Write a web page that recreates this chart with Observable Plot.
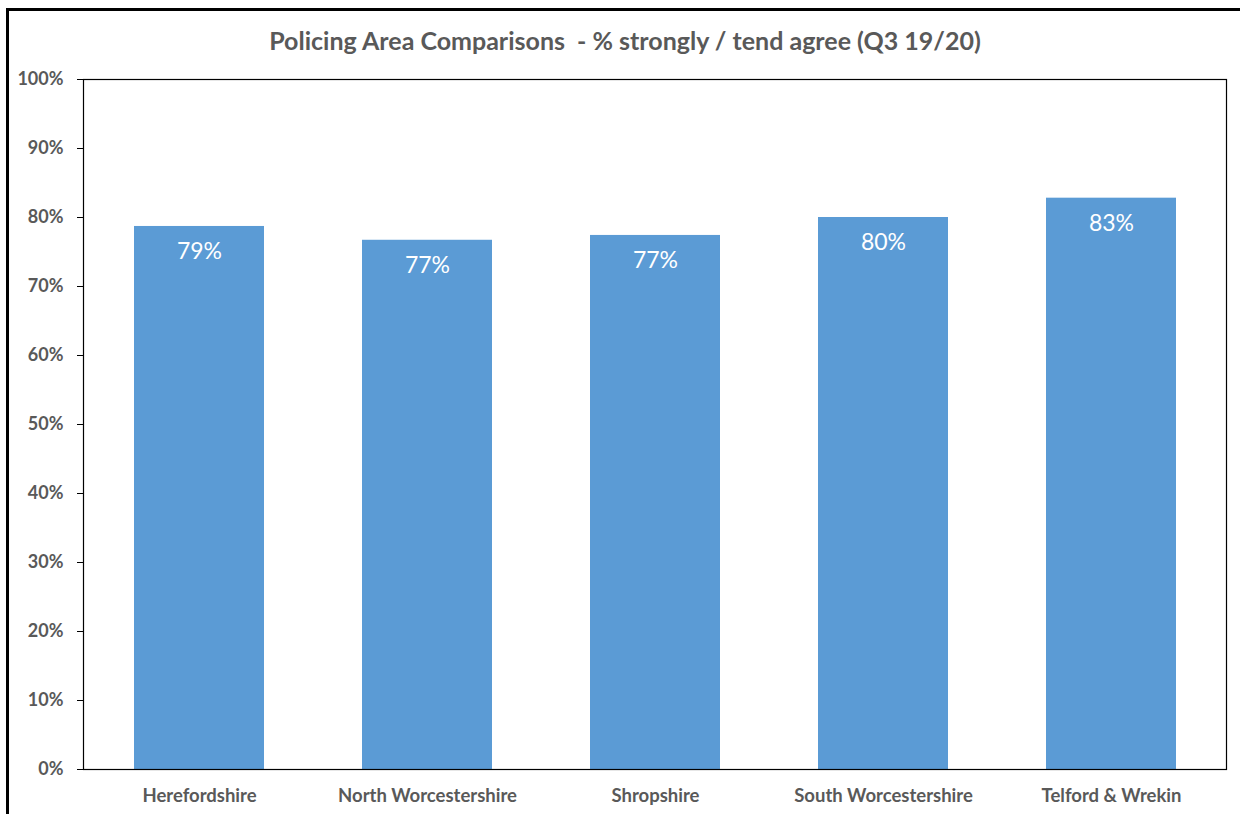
<!DOCTYPE html>
<html>
<head>
<meta charset="utf-8">
<script src="https://cdn.jsdelivr.net/npm/d3@7"></script>
<script src="https://cdn.jsdelivr.net/npm/@observablehq/plot@0.6"></script>
<style>
  html, body { margin: 0; padding: 0; background: #fff; width: 1240px; height: 814px; overflow: hidden; }
  #border { position: absolute; left: 6px; top: 8px; width: 1260px; height: 840px; border-left: 3px solid #000; border-top: 3px solid #000; box-sizing: border-box; }
  #title { position: absolute; left: 0; width: 1250px; top: 25px; text-align: center; font-family: Lato, sans-serif; font-weight: bold; font-size: 25px; color: #595959; white-space: pre; }
  #chart { position: absolute; left: 0; top: 60px; }
</style>
</head>
<body>
<div id="border"></div>
<div id="title">Policing Area Comparisons  - % strongly / tend agree (Q3 19/20)</div>
<div id="chart"></div>
<script>
const categories = ["Herefordshire", "North Worcestershire", "Shropshire", "South Worcestershire", "Telford & Wrekin"];
const values = [78.7, 76.7, 77.4, 80.0, 82.8];
const yTicks = [0, 10, 20, 30, 40, 50, 60, 70, 80, 90, 100];

const data = categories.map((c, i) => ({category: c, value: values[i]}));

const chart = Plot.plot({
  width: 1240,
  height: 754,
  marginLeft: 83,
  marginRight: 14,
  marginTop: 19,
  marginBottom: 45,
  style: {fontFamily: "Lato, sans-serif", background: "transparent"},
  x: {domain: categories, paddingInner: 0.43, paddingOuter: 0.215, label: null},
  y: {domain: [0, 100], label: null},
  marks: [
    Plot.barY(data, {x: "category", y: "value", fill: "#5B9BD5"}),
    Plot.text(data, {x: "category", y: "value", text: d => Math.round(d.value) + "%", dy: 25, fill: "#fff", fontSize: 23, lineAnchor: "middle"}),
    Plot.frame({stroke: "#000", strokeWidth: 1.2}),
    Plot.axisY(yTicks, {tickFormat: d => d + "%", tickSize: 6, tickPadding: 14, stroke: "#000", fill: "#595959", fontSize: 18, fontWeight: "bold"}),
    Plot.axisX({tickSize: 0, tickPadding: 19, fill: "#595959", fontSize: 18.5, fontWeight: "bold", label: null})
  ]
});
document.getElementById("chart").appendChild(chart);
</script>
</body>
</html>
